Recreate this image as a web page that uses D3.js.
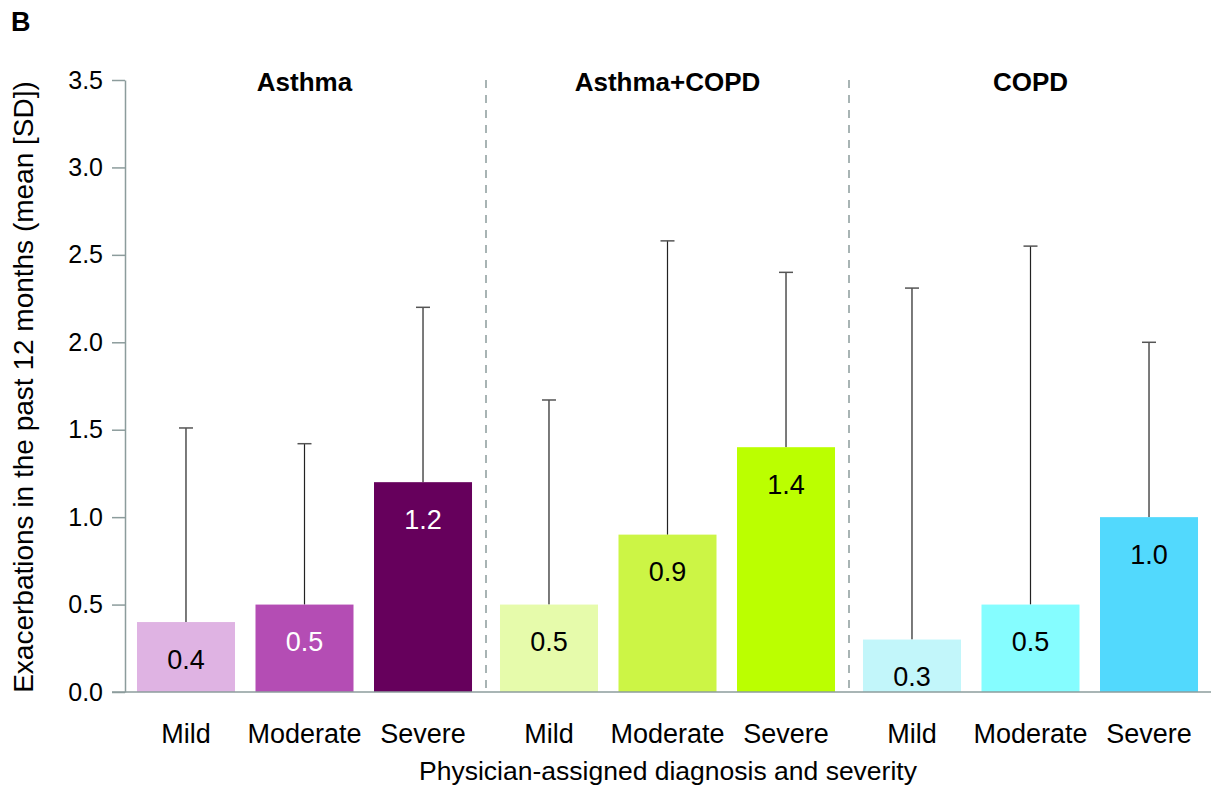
<!DOCTYPE html>
<html>

<head>
    <title>Exacerbations bar chart</title>
    <script src="https://cdn.jsdelivr.net/npm/d3@7"></script>
    <style>
        body {
            margin: 0;
            background-color: #ffffff;
        }

        text {
            font-family: "Liberation Sans", Arial, Helvetica, sans-serif;
        }
    </style>
</head>

<body>
    <svg width="1211" height="789" id="mainsvg"></svg>
    <script>
        // data
        const groups = ['Asthma', 'Asthma+COPD', 'COPD'];
        const severities = ['Mild', 'Moderate', 'Severe'];
        const means = [
            [0.4, 0.5, 1.2],
            [0.5, 0.9, 1.4],
            [0.3, 0.5, 1.0]
        ];
        const upperSD = [
            [1.51, 1.42, 2.2],
            [1.67, 2.58, 2.4],
            [2.31, 2.55, 2.0]
        ];
        const barColors = [
            ['#dfb3e3', '#b44db4', '#66005c'],
            ['#e6fbab', '#ccf545', '#bbff00'],
            ['#c2f6fa', '#85fdff', '#52d9fd']
        ];
        const labelColors = [
            ['#000000', '#ffffff', '#ffffff'],
            ['#000000', '#000000', '#000000'],
            ['#000000', '#000000', '#000000']
        ];
        const yTicks = [0, 0.5, 1.0, 1.5, 2.0, 2.5, 3.0, 3.5];

        const yAxisLabel = 'Exacerbations in the past 12 months (mean [SD])';
        const xAxisLabel = 'Physician-assigned diagnosis and severity';

        const svg = d3.select('#mainsvg');
        const width = +svg.attr('width');
        const axisColor = '#8c9c9c';

        const plotLeft = 123, plotRight = 1212, plotTop = 80, plotBottom = 692;

        // flatten into one row per bar
        const rows = [];
        groups.forEach((g, gi) => {
            severities.forEach((s, si) => {
                rows.push({
                    group: g, severity: s,
                    mean: means[gi][si], upper: upperSD[gi][si],
                    color: barColors[gi][si], labelColor: labelColors[gi][si]
                });
            });
        });

        const x0 = d3.scaleBand()
            .domain(groups)
            .range([plotLeft, plotRight])
            .padding(0);

        const x1 = d3.scaleBand()
            .domain(severities)
            .range([0, x0.bandwidth()])
            .paddingInner(0.173)
            .paddingOuter(0.118);

        const yScale = d3.scaleLinear()
            .domain([0, 3.5])
            .range([plotBottom, plotTop]);

        const barX = d => x0(d.group) + x1(d.severity);

        // panel letter
        svg.append('text')
            .attr('x', 11)
            .attr('y', 31)
            .attr('font-size', 27)
            .attr('font-weight', 'bold')
            .text('B');

        // dashed separators between groups
        svg.selectAll('.separator').data(groups.slice(1)).join('line')
            .attr('class', 'separator')
            .attr('x1', d => x0(d))
            .attr('x2', d => x0(d))
            .attr('y1', yScale(3.5))
            .attr('y2', yScale(0))
            .attr('stroke', axisColor)
            .attr('stroke-width', 1.5)
            .attr('stroke-dasharray', '8,7');

        // error bars (drawn before bars so they start at the bar top)
        const err = svg.append('g').attr('id', 'errorbars');
        err.selectAll('.err-line').data(rows).join('line')
            .attr('class', 'err-line')
            .attr('x1', d => barX(d) + x1.bandwidth() / 2)
            .attr('x2', d => barX(d) + x1.bandwidth() / 2)
            .attr('y1', d => yScale(d.mean))
            .attr('y2', d => yScale(d.upper))
            .attr('stroke', '#222222')
            .attr('stroke-width', 1.2);
        err.selectAll('.err-cap').data(rows).join('line')
            .attr('class', 'err-cap')
            .attr('x1', d => barX(d) + x1.bandwidth() / 2 - 7)
            .attr('x2', d => barX(d) + x1.bandwidth() / 2 + 7)
            .attr('y1', d => yScale(d.upper))
            .attr('y2', d => yScale(d.upper))
            .attr('stroke', '#555555')
            .attr('stroke-width', 1.5);

        // bars
        svg.selectAll('.bar').data(rows).join('rect')
            .attr('class', 'bar')
            .attr('x', barX)
            .attr('y', d => yScale(d.mean))
            .attr('width', x1.bandwidth())
            .attr('height', d => yScale(0) - yScale(d.mean))
            .attr('fill', d => d.color);

        // value labels inside bars
        svg.selectAll('.value').data(rows).join('text')
            .attr('class', 'value')
            .attr('x', d => barX(d) + x1.bandwidth() / 2)
            .attr('y', d => yScale(d.mean) + 37)
            .attr('dy', '0.35em')
            .attr('text-anchor', 'middle')
            .attr('font-size', 27)
            .attr('fill', d => d.labelColor)
            .text(d => d3.format('.1f')(d.mean));

        // y axis
        const yAxis = d3.axisLeft(yScale)
            .tickValues(yTicks)
            .tickFormat(d3.format('.1f'))
            .tickSize(13)
            .tickSizeOuter(0)
            .tickPadding(9);
        const yAxisGroup = svg.append('g')
            .attr('transform', `translate(${125}, 0)`)
            .call(yAxis);
        yAxisGroup.select('.domain').attr('stroke', axisColor).attr('stroke-width', 1.5);
        yAxisGroup.selectAll('.tick line').attr('stroke', axisColor).attr('stroke-width', 1.5);
        yAxisGroup.selectAll('.tick text')
            .attr('font-size', 25)
            .attr('font-family', '"Liberation Sans", Arial, sans-serif')
            .attr('fill', '#000000');

        // x baseline
        svg.append('line')
            .attr('x1', 112)
            .attr('x2', width)
            .attr('y1', yScale(0))
            .attr('y2', yScale(0))
            .attr('stroke', axisColor)
            .attr('stroke-width', 1.5);

        // severity labels under bars
        svg.selectAll('.cat').data(rows).join('text')
            .attr('class', 'cat')
            .attr('x', d => barX(d) + x1.bandwidth() / 2)
            .attr('y', 743)
            .attr('text-anchor', 'middle')
            .attr('font-size', 27)
            .text(d => d.severity);

        // group titles
        svg.selectAll('.group-title').data(groups).join('text')
            .attr('class', 'group-title')
            .attr('x', d => x0(d) + x1(severities[1]) + x1.bandwidth() / 2)
            .attr('y', 91)
            .attr('text-anchor', 'middle')
            .attr('font-size', 26)
            .attr('font-weight', 'bold')
            .text(d => d);

        // axis titles
        svg.append('text')
            .attr('transform', `translate(${33}, ${387}) rotate(-90)`)
            .attr('text-anchor', 'middle')
            .attr('font-size', 28)
            .text(yAxisLabel);

        svg.append('text')
            .attr('x', 668)
            .attr('y', 780)
            .attr('text-anchor', 'middle')
            .attr('font-size', 26.5)
            .text(xAxisLabel);
    </script>

</body>

</html>
